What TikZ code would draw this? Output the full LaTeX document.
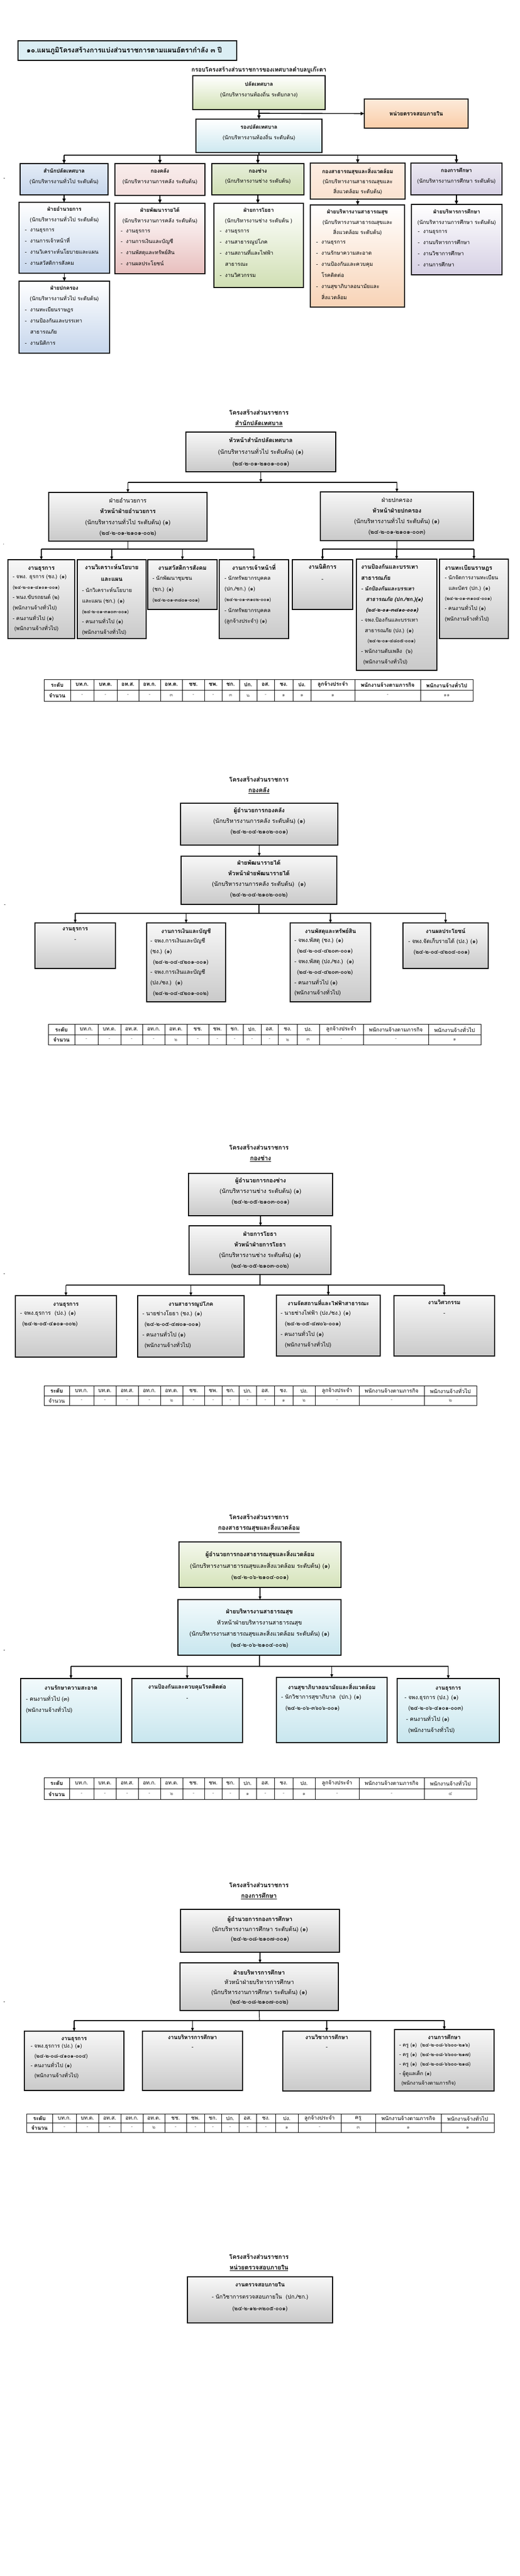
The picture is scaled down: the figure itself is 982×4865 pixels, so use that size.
\documentclass[tikz,border=0pt]{standalone}
\usepackage{fontspec}
\setmainfont{Loma}[Script=Thai]
\newfontfamily\thaiit{Loma}[Script=Thai,FakeSlant=0.2]
\usetikzlibrary{arrows.meta,calc}
\definecolor{ctitle}{HTML}{DBEEF4}
\definecolor{cgreen}{HTML}{D3E2B6}
\definecolor{cpeachA}{HTML}{FDEADA}
\definecolor{cpeachB}{HTML}{F9CDA8}
\definecolor{clblue}{HTML}{CDE8F0}
\definecolor{sbA}{HTML}{E4ECF6}
\definecolor{sbB}{HTML}{C6D6EC}
\definecolor{pkA}{HTML}{F8ECEB}
\definecolor{pkB}{HTML}{E8BFBE}
\definecolor{grA}{HTML}{E6EEDA}
\definecolor{grB}{HTML}{D0DFB3}
\definecolor{peA}{HTML}{FDEDE2}
\definecolor{peB}{HTML}{F8D3B6}
\definecolor{lvA}{HTML}{ECE9F2}
\definecolor{lvB}{HTML}{D6D0E4}
\definecolor{g5A}{HTML}{F4F8EC}
\definecolor{g5B}{HTML}{D5E3BA}
\definecolor{b5A}{HTML}{F2FAFC}
\definecolor{b5B}{HTML}{C8E6EE}
\newcommand\Bx[6]{\node[#2,anchor=north west,minimum width={#5-#3},minimum height={#6-#4}] (#1) at (#3,#4) {};}
\newcommand\FT{\fontsize{10}{20}\selectfont}
\newcommand\FS{\fontsize{11}{20}\selectfont}
\newcommand\FC{\fontsize{10.5}{20}\selectfont}
\newcommand\FK{\fontsize{9}{19.6}\selectfont}
\newcommand\itbf{\thaiit\bfseries}
\newcommand\D{\makebox[10pt][l]{-}}
\newcommand\Tbl[6]{%
 \foreach \xa/\xb/\hh/\vv [count=\i] in {#6} {
  \draw[tline] (\xa,#2) rectangle (\xb,#4);
  \draw[tline] (\xa,#3) -- (\xb,#3);
  \node[#5] (#1h\i) at ({(\xa+\xb)/2},{(#2+#3)/2}) {\hh};
  \node[tv] (#1v\i) at ({(\xa+\xb)/2},{(#3+#4)/2}) {\vv};
 }}
\tikzset{
 box/.style={draw=black,line width=1.5pt,inner sep=0pt,outer sep=0pt},
 gbox/.style={box,top color=gray!6,bottom color=gray!42},
 arr/.style={line width=1.2pt,-{Triangle[length=6pt,width=5pt]}},
 tarr/.style={line width=1.6pt,-{Triangle[length=7pt,width=6pt]}},
 lin/.style={line width=1.2pt},
 tlin/.style={line width=1.6pt},
 tline/.style={line width=0.9pt},
 tx/.style={inner sep=0pt,outer sep=0pt,execute at begin node={\rule{0pt}{11pt}},yshift=7.5pt},
 tc/.style={tx,anchor=north,align=center},
 tl/.style={tx,anchor=north west,align=left},
 hd/.style={inner sep=0pt,font=\fontsize{11.5}{14}\selectfont\bfseries},
 thb/.style={inner sep=0pt,font=\fontsize{10}{12}\selectfont\bfseries},
 thr/.style={inner sep=0pt,font=\fontsize{10}{12}\selectfont},
 tv/.style={inner sep=0pt,font=\fontsize{9}{11}\selectfont,text=black!60},
 stray/.style={inner sep=0pt,font=\fontsize{9}{10}\selectfont},
}
\begin{document}
\begin{tikzpicture}[x=1pt,y=-1pt]
\fill[white] (0,0) rectangle (982,4865);
\useasboundingbox (0,0) rectangle (982,4865);

% ================= TOP CHART =================
\Bx{title}{box,line width=2.4pt,fill=ctitle}{34}{77}{447}{114}
\node[anchor=west,inner sep=0pt,font=\fontsize{13}{15}\selectfont\bfseries] (titlet) at (50,96) {๑๐.แผนภูมิโครงสร้างการแบ่งส่วนราชการตามแผนอัตรากำลัง ๓ ปี};
\node[inner sep=0pt,font=\fontsize{11}{13}\selectfont\bfseries] (sub) at (489,132) {กรอบโครงสร้างส่วนราชการของเทศบาลตำบลบูเก๊ะตา};
\Bx{palad}{box,top color=white,bottom color=cgreen}{364}{143}{614}{207}
\node[tc,font=\fontsize{10}{19.5}\selectfont] (paladt) at (489,162) {{\bfseries ปลัดเทศบาล}\\(นักบริหารงานท้องถิ่น ระดับกลาง)};
\Bx{audit}{box,top color=cpeachA,bottom color=cpeachB}{688}{187}{884}{242}
\node[inner sep=0pt,font=\fontsize{10.5}{12}\selectfont\bfseries] (auditt) at (audit.center) {หน่วยตรวจสอบภายใน};
\Bx{rong}{box,top color=white,bottom color=clblue}{370}{225}{608}{288}
\node[tc,font=\fontsize{10}{20}\selectfont] (rongt) at (489,243) {{\bfseries รองปลัดเทศบาล}\\(นักบริหารงานท้องถิ่น ระดับต้น)};
\draw[tarr] (palad.south) -- (rong.north);
\coordinate (jA) at (489,214);
\draw[tarr] (jA) -- (audit.west);
\node[stray] (st0) at (8,338) {-};

% second row
\Bx{d1}{box,top color=sbA,bottom color=sbB}{38}{309}{204}{368}
\node[tc,font=\fontsize{10}{19.5}\selectfont] (d1t) at (121,326) {{\bfseries สำนักปลัดเทศบาล}\\(นักบริหารงานทั่วไป ระดับต้น)};
\Bx{d2}{box,top color=pkA,bottom color=pkA!70!pkB}{217}{309}{387}{369}
\node[tc,font=\fontsize{10}{19.5}\selectfont] (d2t) at (302,326) {{\bfseries กองคลัง}\\(นักบริหารงานการคลัง ระดับต้น)};
\Bx{d3}{box,top color=grA,bottom color=grB}{400}{309}{574}{368}
\node[tc,font=\fontsize{10}{19.5}\selectfont] (d3t) at (487,326) {{\bfseries กองช่าง}\\(นักบริหารงานช่าง ระดับต้น)};
\Bx{d4}{box,top color=peA,bottom color=peA!60!peB}{586}{308}{765}{376}
\node[tc,font=\fontsize{10}{19}\selectfont] (d4t) at (675.5,325) {{\bfseries กองสาธารณสุขและสิ่งแวดล้อม}\\(นักบริหารงานสาธารณสุขและ\\สิ่งแวดล้อม ระดับต้น)};
\Bx{d5}{box,top color=lvA,bottom color=lvB}{776}{308}{948}{368}
\node[tc,font=\fontsize{10}{20}\selectfont] (d5t) at (862,325) {{\bfseries กองการศึกษา}\\(นักบริหารงานการศึกษา ระดับต้น)};
\coordinate (busT) at (489,293);
\draw[tlin] (rong.south) -- (busT);
\draw[tlin] (busT -| d1.north) -- (busT -| d5.north);
\foreach \d in {d1,d2,d3,d4,d5} \draw[tarr] (busT -| \d.north) -- (\d.north);

% third row
\Bx{f1}{box,top color=white,bottom color=sbB}{36}{382}{207}{516}
\node[tc,font=\fontsize{10}{20}\selectfont] (f1t) at (121.5,398) {{\bfseries ฝ่ายอำนวยการ}\\(นักบริหารงานทั่วไป ระดับต้น)};
\node[tl,font=\fontsize{10}{21}\selectfont] (f1b) at (47,439) {\D งานธุรการ\\\D งานการเจ้าหน้าที่\\\D งานวิเคราะห์นโยบายและแผน\\\D งานสวัสดิการสังคม};
\Bx{f2}{box,top color=white,bottom color=sbB}{36}{531}{207}{667}
\node[tc,font=\fontsize{10}{20}\selectfont] (f2t) at (121.5,547) {{\bfseries ฝ่ายปกครอง}\\(นักบริหารงานทั่วไป ระดับต้น)};
\node[tl,font=\fontsize{10}{21}\selectfont] (f2b) at (47,588) {\D งานทะเบียนราษฎร\\\D งานป้องกันและบรรเทา\\\hspace*{10pt}สาธารณภัย\\\D งานนิติการ};
\Bx{f3}{box,top color=white,bottom color=pkB}{217}{384}{387}{517}
\node[tc,font=\fontsize{10}{20}\selectfont] (f3t) at (302,400) {{\bfseries ฝ่ายพัฒนารายได้}\\(นักบริหารงานการคลัง ระดับต้น)};
\node[tl,font=\fontsize{10}{20.7}\selectfont] (f3b) at (228,441) {\D งานธุรการ\\\D งานการเงินและบัญชี\\\D งานพัสดุและทรัพย์สิน\\\D งานผลประโยชน์};
\Bx{f4}{box,top color=white,bottom color=grB}{404}{384}{573}{543}
\node[tc,font=\fontsize{10}{20}\selectfont] (f4t) at (488.5,400) {{\bfseries ฝ่ายการโยธา}\\(นักบริหารงานช่าง ระดับต้น )};
\node[tl,font=\fontsize{10}{21}\selectfont] (f4b) at (415,441) {\D งานธุรการ\\\D งานสาธารณูปโภค\\\D งานสถานที่และไฟฟ้า\\\hspace*{10pt}สาธารณะ\\\D งานวิศวกรรม};
\Bx{f5}{box,top color=white,bottom color=peB}{586}{387}{764}{580}
\node[tc,font=\fontsize{10}{19.5}\selectfont] (f5t) at (675,403) {{\bfseries ฝ่ายบริหารงานสาธารณสุข}\\(นักบริหารงานสาธารณสุขและ\\สิ่งแวดล้อม ระดับต้น)};
\node[tl,font=\fontsize{10}{21}\selectfont] (f5b) at (597,462) {\D งานธุรการ\\\D งานรักษาความสะอาด\\\D งานป้องกันและควบคุม\\\hspace*{10pt}โรคติดต่อ\\\D งานสุขาภิบาลอนามัยและ\\\hspace*{10pt}สิ่งแวดล้อม};
\Bx{f6}{box,top color=white,bottom color=lvB}{777}{386}{948}{519}
\node[tc,font=\fontsize{10}{19.5}\selectfont] (f6t) at (862.5,403) {{\bfseries ฝ่ายบริหารการศึกษา}\\(นักบริหารงานการศึกษา ระดับต้น)};
\node[tl,font=\fontsize{10}{21}\selectfont] (f6b) at (789,442) {\D งานธุรการ\\\D งานบริหารการศึกษา\\\D งานวิชาการศึกษา\\\D งานการศึกษา};
\draw[tarr] (d1.south) -- (d1.south |- f1.north);
\draw[tarr] (f1.south) -- (f1.south |- f2.north);
\draw[tarr] (d2.south) -- (d2.south |- f3.north);
\draw[tarr] (d3.south) -- (d3.south |- f4.north);
\draw[tarr] (d4.south) -- (d4.south |- f5.north);
\draw[tarr] (d5.south) -- (d5.south |- f6.north);

% ================= SECTION 2 =================
\node[hd] (h2a) at (489,779) {โครงสร้างส่วนราชการ};
\node[hd] (h2b) at (489,800) {\underline{สำนักปลัดเทศบาล}};
\Bx{s2h}{gbox}{351}{816}{634}{891}
\node[tc,font=\fontsize{11}{22}\selectfont] (s2ht) at (492.5,834) {{\bfseries หัวหน้าสำนักปลัดเทศบาล}\\(นักบริหารงานทั่วไป ระดับต้น) (๑)\\(๒๔-๒-๐๑-๒๑๐๑-๐๐๑)};
\Bx{s2a}{gbox}{92}{930}{391}{1022}
\node[tc,font=\fontsize{11}{20.3}\selectfont] (s2at) at (241.5,948) {ฝ่ายอำนวยการ\\{\bfseries หัวหน้าฝ่ายอำนวยการ}\\(นักบริหารงานทั่วไป ระดับต้น) (๑)\\(๒๔-๒-๐๑-๒๑๐๑-๐๐๒)};
\Bx{s2b}{gbox}{605}{929}{894}{1021}
\node[tc,font=\fontsize{11}{20.3}\selectfont] (s2bt) at (749.5,947) {ฝ่ายปกครอง\\{\bfseries หัวหน้าฝ่ายปกครอง}\\(นักบริหารงานทั่วไป ระดับต้น) (๑)\\(๒๔-๒-๐๑-๒๑๐๑-๐๐๓)};
\coordinate (b2) at (492.5,911);
\draw[arr] (s2h.south) -- (b2);
\draw[lin] (b2 -| s2a.north) -- (b2 -| s2b.north);
\draw[arr] (b2 -| s2a.north) -- (s2a.north);
\draw[arr] (b2 -| s2b.north) -- (s2b.north);
\node[stray] (st1) at (7,1028) {.};

\Bx{c1}{gbox}{15}{1057}{141}{1206}
\node[tc,font=\fontsize{11}{21}\selectfont\bfseries] (c1t) at (78,1073) {งานธุรการ};
\node[tl,font=\fontsize{10}{19.6}\selectfont] (c1b) at (24,1093) {- จพง. ธุรการ (ชง.) (๑)\\{\FK(๒๔-๒-๐๑-๔๑๐๑-๐๐๑)}\\- พนง.ขับรถยนต์ (๒)\\(พนักงานจ้างทั่วไป)\\- คนงานทั่วไป (๑)\\\hspace*{3pt}(พนักงานจ้างทั่วไป)};
\Bx{c2}{gbox}{146}{1057}{276}{1206}
\node[tc,font=\fontsize{11}{22}\selectfont\bfseries] (c2t) at (211,1073) {งานวิเคราะห์นโยบาย\\และแผน};
\node[tl,font=\fontsize{10}{19.8}\selectfont] (c2b) at (155,1117) {- นักวิเคราะห์นโยบาย\\และแผน (ชก.) (๑)\\{\FK(๒๔-๒-๐๑-๓๑๐๓-๐๐๑)}\\- คนงานทั่วไป (๑)\\(พนักงานจ้างทั่วไป)};
\Bx{c3}{gbox}{279}{1057}{410}{1151}
\node[tc,font=\fontsize{11}{21}\selectfont\bfseries] (c3t) at (344.5,1073) {งานสวัสดิการสังคม};
\node[tl,font=\fontsize{10}{20.5}\selectfont] (c3b) at (288,1095) {- นักพัฒนาชุมชน\\(ชก.) (๑)\\{\FK(๒๔-๒-๐๑-๓๘๐๑-๐๐๑)}};
\Bx{c4}{gbox}{414}{1057}{545}{1206}
\node[tc,font=\fontsize{11}{21}\selectfont\bfseries] (c4t) at (479.5,1073) {งานการเจ้าหน้าที่};
\node[tl,font=\fontsize{10}{20.2}\selectfont] (c4b) at (424,1095) {- นักทรัพยากรบุคคล\\(ปก./ชก.) (๑)\\{\FK(๒๔-๒-๐๑-๓๑๐๒-๐๐๑)}\\- นักทรัพยากรบุคคล\\(ลูกจ้างประจำ) (๑)};
\Bx{c5}{gbox}{552}{1057}{666}{1151}
\node[tc,font=\fontsize{11}{23}\selectfont] (c5t) at (609,1073) {{\bfseries งานนิติการ}\\-};
\Bx{c6}{gbox}{673}{1056}{825}{1266}
\node[tl,font=\fontsize{11}{21}\selectfont\bfseries] (c6t) at (682,1073) {งานป้องกันและบรรเทา\\สาธารณภัย};
\node[tl,font=\fontsize{10}{19.6}\selectfont] (c6b) at (682,1115) {{\itbf - นักป้องกันและบรรเทา}\\\hspace*{9pt}{\itbf สาธารณภัย (ปก./ชก.)(๑)}\\\hspace*{9pt}{\itbf (๒๔-๒-๐๑-๓๘๑๐-๐๐๑)}\\- จพง.ป้องกันและบรรเทา\\\hspace*{7pt}สาธารณภัย (ปง.) (๑)\\\hspace*{12pt}{\FK(๒๔-๒-๐๑-๔๘๐๕-๐๐๑)}\\- พนักงานดับเพลิง~~(๖)\\\hspace*{4pt}(พนักงานจ้างทั่วไป)};
\Bx{c7}{gbox}{830}{1056}{960}{1206}
\node[tl,font=\fontsize{11}{21}\selectfont\bfseries] (c7t) at (840,1073) {งานทะเบียนราษฎร};
\node[tl,font=\fontsize{10}{19.3}\selectfont] (c7b) at (840,1094) {- นักจัดการงานทะเบียน\\\hspace*{7pt}และบัตร (ปก.) (๑)\\{\FK(๒๔-๒-๐๑-๓๑๐๔-๐๐๑)}\\- คนงานทั่วไป (๑)\\(พนักงานจ้างทั่วไป)};
\coordinate (b2l) at (241.5,1037);
\draw[lin] (s2a.south) -- (b2l);
\draw[lin] (b2l -| c1.north) -- (b2l -| c4.north);
\foreach \c in {c1,c2,c3,c4} \draw[arr] (b2l -| \c.north) -- (\c.north);
\coordinate (b2r) at (749.5,1037);
\draw[lin] (s2b.south) -- (b2r);
\draw[lin] (b2r -| c5.north) -- (b2r -| c7.north);
\foreach \c in {c5,c6,c7} \draw[arr] (b2r -| \c.north) -- (\c.north);

\Tbl{t2}{1283}{1303}{1324}{thb}{83/133/ระดับ/{\color{black}\bfseries\fontsize{10}{12}\selectfont จำนวน},133/177/บท.ก./-,177/221/บท.ต./-,221/262/อท.ส./-,262/303/อท.ก./-,303/344/อท.ต./๓,344/386/ชช./-,386/419/ชพ./-,419/452/ชก./๓,452/485/ปก./๒,485/518/อส./-,518/553/ชง./๑,553/587/ปง./๑,587/670/ลูกจ้างประจำ/๑,670/794/พนักงานจ้างตามภารกิจ/-,794/893/พนักงานจ้างทั่วไป/๑๑}

% ================= SECTION 3 =================
\node[hd] (h3a) at (489,1472) {โครงสร้างส่วนราชการ};
\node[hd] (h3b) at (489,1493) {\underline{กองคลัง}};
\Bx{s3h}{gbox}{341}{1517}{638}{1596}
\node[tc,font=\FS] (s3ht) at (489.5,1533) {{\bfseries ผู้อำนวยการกองคลัง}\\(นักบริหารงานการคลัง ระดับต้น) (๑)\\(๒๔-๒-๐๔-๒๑๐๒-๐๐๑)};
\Bx{s3f}{gbox}{342}{1617}{636}{1708}
\node[tc,font=\FS] (s3ft) at (489,1632) {{\bfseries ฝ่ายพัฒนารายได้}\\{\bfseries หัวหน้าฝ่ายพัฒนารายได้}\\(นักบริหารงานการคลัง ระดับต้น)~~(๑)\\(๒๔-๒-๐๔-๒๑๐๒-๐๐๒)};
\draw[arr] (s3h.south) -- (s3h.south |- s3f.north);
\node[stray] (st2) at (9,1710) {-};
\Bx{k1}{gbox}{66}{1743}{218}{1829}
\node[tc,font=\FC] (k1t) at (142,1759) {{\bfseries งานธุรการ}\\-};
\Bx{k2}{gbox}{277}{1743}{426}{1892}
\node[tc,font=\FC\bfseries] (k2t) at (351.5,1759) {งานการเงินและบัญชี};
\node[tl,font=\fontsize{10.5}{19.8}\selectfont] (k2b) at (284,1779) {- จพง.การเงินและบัญชี\\(ชง.) (๑)\\\hspace*{5pt}(๒๔-๒-๐๔-๔๒๐๑-๐๐๑)\\- จพง.การเงินและบัญชี\\(ปง./ชง.)~~(๑)\\\hspace*{5pt}(๒๔-๒-๐๔-๔๒๐๑-๐๐๒)};
\Bx{k3}{gbox}{548}{1743}{700}{1892}
\node[tc,font=\FC\bfseries] (k3t) at (624,1759) {งานพัสดุและทรัพย์สิน};
\node[tl,font=\fontsize{10.5}{19.8}\selectfont] (k3b) at (556,1779) {- จพง.พัสดุ (ชง.) (๑)\\\hspace*{5pt}(๒๔-๒-๐๔-๔๒๐๓-๐๐๑)\\- จพง.พัสดุ (ปง./ชง.)~~(๑)\\\hspace*{5pt}(๒๔-๒-๐๔-๔๒๐๓-๐๐๒)\\- คนงานทั่วไป (๑)\\(พนักงานจ้างทั่วไป)};
\Bx{k4}{gbox}{761}{1743}{922}{1829}
\node[tc,font=\FC\bfseries] (k4t) at (841.5,1759) {งานผลประโยชน์};
\node[tl,font=\fontsize{10.5}{19.8}\selectfont] (k4b) at (771,1779) {- จพง.จัดเก็บรายได้ (ปง.) (๑)\\\hspace*{10pt}(๒๔-๒-๐๔-๔๒๐๔-๐๐๑)};
\coordinate (b3) at (489,1725);
\draw[lin] (s3f.south) -- (b3);
\draw[lin] (b3 -| k1.north) -- (b3 -| k4.north);
\foreach \c in {k1,k2,k3,k4} \draw[arr] (b3 -| \c.north) -- (\c.north);
\Tbl{t3}{1934}{1954}{1973}{thr}{91/141/{\bfseries ระดับ}/{\color{black}\bfseries\fontsize{10}{12}\selectfont จำนวน},141/185/บท.ก./-,185/228/บท.ต./-,228/269/อท.ส./-,269/311/อท.ก./-,311/353/อท.ต./๒,353/394/ชช./-,394/427/ชพ./-,427/459/ชก./-,459/493/ปก./-,493/525/อส./-,525/561/ชง./๒,561/603/ปง./๓,603/686/ลูกจ้างประจำ/-,686/809/พนักงานจ้างตามภารกิจ/-,809/908/พนักงานจ้างทั่วไป/๑}

% ================= SECTION 4 =================
\node[hd] (h4a) at (489,2167) {โครงสร้างส่วนราชการ};
\node[hd] (h4b) at (492,2188) {\underline{กองช่าง}};
\Bx{s4h}{gbox}{356}{2216}{628}{2296}
\node[tc,font=\FS] (s4ht) at (492,2232) {{\bfseries ผู้อำนวยการกองช่าง}\\(นักบริหารงานช่าง ระดับต้น) (๑)\\(๒๔-๒-๐๕-๒๑๐๓-๐๐๑)};
\Bx{s4f}{gbox}{357}{2315}{625}{2407}
\node[tc,font=\FS] (s4ft) at (491,2333) {{\bfseries ฝ่ายการโยธา}\\{\bfseries หัวหน้าฝ่ายการโยธา}\\(นักบริหารงานช่าง ระดับต้น) (๑)\\(๒๔-๒-๐๕-๒๑๐๓-๐๐๒)};
\draw[arr] (s4h.south) -- (s4h.south |- s4f.north);
\node[stray] (st3) at (8,2407) {-};
\Bx{m1}{gbox}{29}{2447}{220}{2563}
\node[tc,font=\FC\bfseries] (m1t) at (124.5,2463) {งานธุรการ};
\node[tl,font=\FC] (m1b) at (38,2483) {- จพง.ธุรการ~~(ปง.) (๑)\\\hspace*{4pt}(๒๔-๒-๐๕-๔๑๐๑-๐๐๒)};
\Bx{m2}{gbox}{260}{2447}{461}{2563}
\node[tc,font=\FC\bfseries] (m2t) at (360.5,2463) {งานสาธารณูปโภค};
\node[tl,font=\FC] (m2b) at (269,2483) {- นายช่างโยธา (ชง.) (๑)\\\hspace*{4pt}(๒๔-๒-๐๕-๔๗๐๑-๐๐๑)\\- คนงานทั่วไป (๑)\\\hspace*{4pt}(พนักงานจ้างทั่วไป)};
\Bx{m3}{gbox}{522}{2446}{718}{2561}
\node[tc,font=\FC\bfseries] (m3t) at (620,2462) {งานจัดสถานที่และไฟฟ้าสาธารณะ};
\node[tl,font=\FC] (m3b) at (530,2482) {- นายช่างไฟฟ้า (ปง./ชง.) (๑)\\\hspace*{8pt}(๒๔-๒-๐๕-๔๗๐๖-๐๐๑)\\- คนงานทั่วไป (๑)\\\hspace*{8pt}(พนักงานจ้างทั่วไป)};
\Bx{m4}{gbox}{744}{2447}{934}{2561}
\node[tc,font=\FC] (m4t) at (839,2462) {{\bfseries งานวิศวกรรม}\\-};
\coordinate (b4) at (491,2427);
\draw[lin] (s4f.south) -- (b4);
\draw[lin] (b4 -| m1.north) -- (b4 -| m4.north);
\foreach \c in {m1,m2,m3,m4} \draw[arr] (b4 -| \c.north) -- (\c.north);
\Tbl{t4}{2617}{2636}{2654}{thr}{83/131/{\bfseries ระดับ}/{\color{black}\fontsize{10}{12}\selectfont จำนวน},131/177/บท.ก./-,177/219/บท.ต./-,219/261/อท.ส./-,261/303/อท.ก./-,303/345/อท.ต./๒,345/386/ชช./-,386/419/ชพ./-,419/451/ชก./-,451/484/ปก./-,484/518/อส./-,518/553/ชง./๑,553/595/ปง./๒,595/678/ลูกจ้างประจำ/-,678/801/พนักงานจ้างตามภารกิจ/-,801/900/พนักงานจ้างทั่วไป/๒}

% ================= SECTION 5 =================
\node[hd] (h5a) at (489,2865) {โครงสร้างส่วนราชการ};
\node[hd] (h5b) at (489,2886) {\underline{กองสาธารณสุขและสิ่งแวดล้อม}};
\Bx{s5h}{box,top color=g5A,bottom color=g5B}{338}{2912}{644}{2998}
\node[tc,font=\fontsize{11}{21.5}\selectfont] (s5ht) at (491,2936) {{\bfseries ผู้อำนวยการกองสาธารณสุขและสิ่งแวดล้อม}\\(นักบริหารงานสาธารณสุขและสิ่งแวดล้อม ระดับต้น) (๑)\\(๒๔-๒-๐๖-๒๑๐๔-๐๐๑)};
\Bx{s5f}{box,top color=b5A,bottom color=b5B}{336}{3021}{644}{3126}
\node[tc,font=\fontsize{11}{21}\selectfont] (s5ft) at (490,3046) {{\bfseries ฝ่ายบริหารงานสาธารณสุข}\\หัวหน้าฝ่ายบริหารงานสาธารณสุข\\(นักบริหารงานสาธารณสุขและสิ่งแวดล้อม ระดับต้น) (๑)\\(๒๔-๒-๐๖-๒๑๐๔-๐๐๒)};
\draw[arr] (s5h.south) -- (s5h.south |- s5f.north);
\node[stray] (st4) at (8,3118) {-};
\Bx{p1}{box,top color=b5A,bottom color=b5B}{39}{3170}{229}{3291}
\node[tc,font=\FC\bfseries] (p1t) at (134,3188) {งานรักษาความสะอาด};
\node[tl,font=\fontsize{10.5}{21}\selectfont] (p1b) at (49,3209) {- คนงานทั่วไป (๓)\\(พนักงานจ้างทั่วไป)};
\Bx{p2}{box,top color=b5A,bottom color=b5B}{249}{3170}{458}{3291}
\node[tc,font=\fontsize{10.5}{21}\selectfont] (p2t) at (353.5,3188) {{\bfseries งานป้องกันและควบคุมโรคติดต่อ}\\-};
\Bx{p3}{box,top color=b5A,bottom color=b5B}{522}{3168}{731}{3291}
\node[tc,font=\FC\bfseries] (p3t) at (626.5,3187) {งานสุขาภิบาลอนามัยและสิ่งแวดล้อม};
\node[tl,font=\fontsize{10.5}{21}\selectfont] (p3b) at (531,3208) {- นักวิชาการสุขาภิบาล~~(ปก.) (๑)\\\hspace*{8pt}(๒๔-๒-๐๖-๓๖๐๖-๐๐๑)};
\Bx{p4}{box,top color=b5A,bottom color=b5B}{750}{3170}{943}{3291}
\node[tc,font=\FC\bfseries] (p4t) at (846.5,3188) {งานธุรการ};
\node[tl,font=\fontsize{10.5}{20.8}\selectfont] (p4b) at (764,3209) {- จพง.ธุรการ (ปง.) (๑)\\\hspace*{7pt}(๒๔-๒-๐๖-๔๑๐๑-๐๐๓)\\\hspace*{3pt}- คนงานทั่วไป (๑)\\\hspace*{7pt}(พนักงานจ้างทั่วไป)};
\coordinate (b5) at (490,3147);
\draw[lin] (s5f.south) -- (b5);
\draw[lin] (b5 -| p1.north) -- (b5 -| p4.north);
\foreach \c in {p1,p2,p3,p4} \draw[arr] (b5 -| \c.north) -- (\c.north);
\Tbl{t5}{3357}{3378}{3398}{thr}{83/131/{\bfseries ระดับ}/{\color{black}\bfseries\fontsize{10}{12}\selectfont จำนวน},131/177/บท.ก./-,177/219/บท.ต./-,219/261/อท.ส./-,261/303/อท.ก./-,303/345/อท.ต./๒,345/386/ชช./-,386/419/ชพ./-,419/451/ชก./-,451/484/ปก./๑,484/518/อส./-,518/553/ชง./-,553/595/ปง./๑,595/678/ลูกจ้างประจำ/-,678/801/พนักงานจ้างตามภารกิจ/-,801/900/พนักงานจ้างทั่วไป/๔}

% ================= SECTION 6 =================
\node[hd] (h6a) at (489,3560) {โครงสร้างส่วนราชการ};
\node[hd] (h6b) at (489,3581) {\underline{กองการศึกษา}};
\Bx{s6h}{gbox}{341}{3606}{641}{3687}
\node[tc,font=\fontsize{11}{18.5}\selectfont] (s6ht) at (491,3627) {{\bfseries ผู้อำนวยการกองการศึกษา}\\(นักบริหารงานการศึกษา ระดับต้น) (๑)\\(๒๔-๒-๐๘-๒๑๐๗-๐๐๑)};
\Bx{s6f}{gbox}{340}{3707}{639}{3797}
\node[tc,font=\fontsize{11}{18.4}\selectfont] (s6ft) at (489.5,3728) {{\bfseries ฝ่ายบริหารการศึกษา}\\หัวหน้าฝ่ายบริหารการศึกษา\\(นักบริหารงานการศึกษา ระดับต้น) (๑)\\(๒๔-๒-๐๘-๒๑๐๗-๐๐๒)};
\draw[arr] (s6h.south) -- (s6h.south |- s6f.north);
\node[stray] (st5) at (8,3782) {-};
\Bx{q1}{gbox}{46}{3836}{234}{3948}
\node[tc,font=\FC\bfseries] (q1t) at (140,3850) {งานธุรการ};
\node[tl,font=\fontsize{10}{18.5}\selectfont] (q1b) at (58,3868) {- จพง.ธุรการ (ปง.) (๑)\\\hspace*{7pt}(๒๔-๒-๐๘-๔๑๐๑-๐๐๔)\\- คนงานทั่วไป (๑)\\\hspace*{7pt}(พนักงานจ้างทั่วไป)};
\Bx{q2}{gbox}{269}{3836}{458}{3948}
\node[tc,font=\fontsize{10.5}{18.5}\selectfont] (q2t) at (363.5,3850) {{\bfseries งานบริหารการศึกษา}\\-};
\Bx{q3}{gbox}{534}{3836}{700}{3949}
\node[tc,font=\fontsize{10.5}{18.5}\selectfont] (q3t) at (617,3850) {{\bfseries งานวิชาการศึกษา}\\-};
\Bx{q4}{gbox}{745}{3833}{933}{3949}
\node[tc,font=\FC\bfseries] (q4t) at (839,3848) {งานการศึกษา};
\node[tl,font=\fontsize{9.5}{18}\selectfont] (q4b) at (754,3866) {- ครู (๑)~~(๒๔-๒-๐๘-๖๖๐๐-๒๑๖)\\- ครู (๑)~~(๒๔-๒-๐๘-๖๖๐๐-๒๑๗)\\- ครู (๑)~~(๒๔-๒-๐๘-๖๖๐๐-๒๑๘)\\- ผู้ดูแลเด็ก (๑)\\\hspace*{4pt}(พนักงานจ้างตามภารกิจ)};
\coordinate (b6) at (490,3816);
\draw[lin] (s6f.south) -- (b6);
\draw[lin] (b6 -| q1.north) -- (b6 -| q4.north);
\foreach \c in {q1,q2,q3,q4} \draw[arr] (b6 -| \c.north) -- (\c.north);
\Tbl{t6}{3992}{4009}{4027}{thr}{50/99/{\bfseries ระดับ}/{\color{black}\bfseries\fontsize{10}{12}\selectfont จำนวน},99/144/บท.ก./-,144/186/บท.ต./-,186/228/อท.ส./-,228/270/อท.ก./-,270/311/อท.ต./๒,311/352/ชช./-,352/386/ชพ./-,386/418/ชก./-,418/451/ปก./-,451/484/อส./-,484/520/ชง./-,520/563/ปง./๑,563/644/ลูกจ้างประจำ/-,644/709/ครู/๓,709/833/พนักงานจ้างตามภารกิจ/๑,833/933/พนักงานจ้างทั่วไป/๑}

% ================= SECTION 7 =================
\node[hd] (h7a) at (489,4262) {โครงสร้างส่วนราชการ};
\node[hd] (h7b) at (489,4283) {\underline{หน่วยตรวจสอบภายใน}};
\Bx{s7}{gbox}{354}{4300}{628}{4387}
\node[tc,font=\fontsize{10.5}{22.5}\selectfont] (s7t) at (491,4318) {{\bfseries งานตรวจสอบภายใน}\\- นักวิชาการตรวจสอบภายใน~~(ปก./ชก.)\\(๒๔-๒-๑๒-๓๒๐๕-๐๐๑)};
\end{tikzpicture}
\end{document}
